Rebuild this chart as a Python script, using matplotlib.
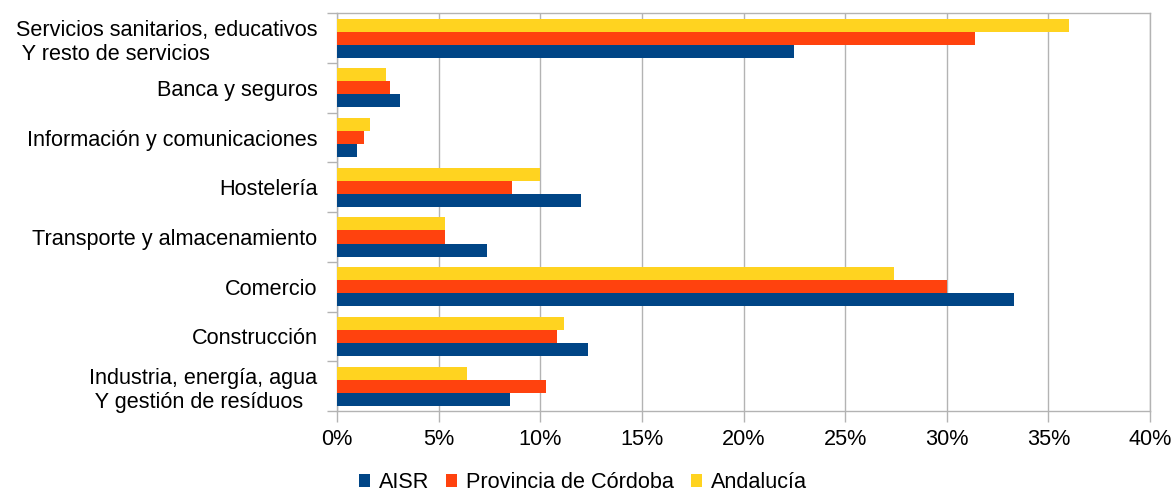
import matplotlib
matplotlib.use("Agg")
import matplotlib.pyplot as plt
from matplotlib.patches import Patch
import numpy as np

plt.rcParams['font.family'] = ['Liberation Sans', 'DejaVu Sans']

categories = [
    "Industria, energía, agua\n Y gestión de resíduos",
    "Construcción",
    "Comercio",
    "Transporte y almacenamiento",
    "Hostelería",
    "Información y comunicaciones",
    "Banca y seguros",
    "Servicios sanitarios, educativos\n Y resto de servicios",
]
aisr = [8.5, 12.35, 33.3, 7.4, 12.0, 0.99, 3.1, 22.5]
provincia = [10.3, 10.8, 30.0, 5.3, 8.6, 1.33, 2.6, 31.4]
andalucia = [6.4, 11.15, 27.4, 5.3, 10.0, 1.63, 2.4, 36.0]
series_names = ["AISR", "Provincia de Córdoba", "Andalucía"]
colors = ["#004586", "#ff420e", "#ffd320"]
xticks = [0, 5, 10, 15, 20, 25, 30, 35, 40]
xticklabels = [f"{v}%" for v in xticks]

fs = 15.6
fig = plt.figure(figsize=(11.73, 4.93), dpi=100)
ax = fig.add_axes([337/1173, 1-411/493, (1150-337)/1173, (411-13.3)/493])

y = np.arange(len(categories))
h = 0.262
ax.barh(y - h, aisr, height=h, color=colors[0], zorder=3)
ax.barh(y, provincia, height=h, color=colors[1], zorder=3)
ax.barh(y + h, andalucia, height=h, color=colors[2], zorder=3)

ax.set_xlim(0, 40)
ax.set_ylim(-0.5, len(categories) - 0.5)
ax.set_xticks(xticks)
ax.set_xticklabels(xticklabels, fontsize=fs)
ax.set_yticks(y)
ax.set_yticklabels(categories, fontsize=fs, multialignment='left')
ax.set_yticks(np.arange(-0.5, len(categories)), minor=True)

gray = "#b3b3b3"
ax.grid(axis='x', color=gray, linewidth=1.0, zorder=0)
for s in ax.spines.values():
    s.set_color(gray)
    s.set_linewidth(1.0)
ax.tick_params(axis='x', which='major', length=8, width=1.0, color=gray, pad=5, labelcolor='black')
ax.tick_params(axis='y', which='major', length=0, pad=14)
ax.tick_params(axis='y', which='minor', length=7.5, width=1.0, color=gray)

handles = [Patch(facecolor=c, edgecolor='none') for c in colors]
fig.legend(handles, series_names, loc='center', bbox_to_anchor=(0.497, 0.0203),
           ncol=3, frameon=False, fontsize=fs, handlelength=0.52, handleheight=0.52,
           handletextpad=0.42, columnspacing=0.75, borderpad=0, borderaxespad=0)

fig.savefig("out.png", dpi=100)
